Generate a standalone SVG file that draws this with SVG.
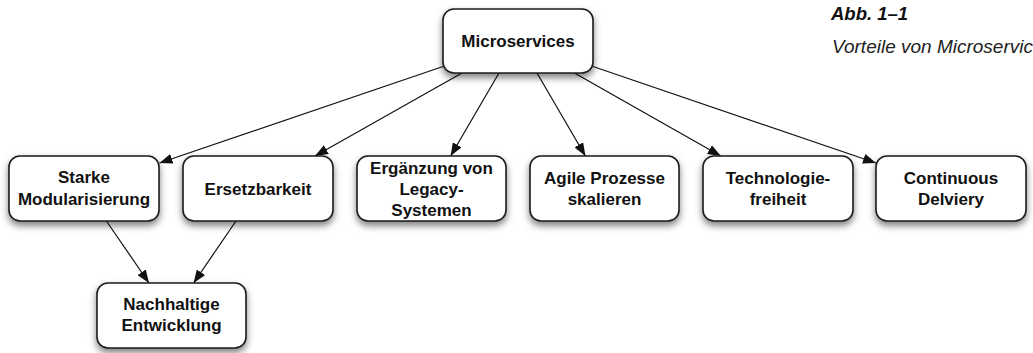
<svg xmlns="http://www.w3.org/2000/svg" width="1033" height="353" viewBox="0 0 1033 353">
  <style>
    .box { fill: #ffffff; stroke: #1a1a1a; stroke-width: 1.6; filter: url(#shadow); }
    .label { font-family: "Liberation Sans", Arial, sans-serif; font-weight: bold; font-size: 17px; fill: #111111; text-anchor: middle; }
    .edge { stroke: #111111; stroke-width: 1.2; fill: none; marker-end: url(#arrow); }
    .cap-title { font-family: "Liberation Sans", Arial, sans-serif; font-weight: bold; font-style: italic; font-size: 18.5px; fill: #111111; }
    .cap-text { font-family: "Liberation Sans", Arial, sans-serif; font-style: italic; font-size: 19px; fill: #222222; }
  </style>
  <defs>
    <filter id="shadow" x="-20%" y="-30%" width="140%" height="170%">
      <feDropShadow dx="0" dy="4" stdDeviation="3.5" flood-color="#000000" flood-opacity="0.5"/>
    </filter>
    <marker id="arrow" markerUnits="userSpaceOnUse" markerWidth="13" markerHeight="10" refX="13" refY="5" orient="auto">
      <path d="M0,0 L13,5 L0,10 z" fill="#111111"/>
    </marker>
  </defs>

  <rect width="1033" height="353" fill="#ffffff"/>

  <!-- caption (runs off the right edge) -->
  <text class="cap-title" x="831" y="20">Abb. 1–1</text>
  <text class="cap-text" x="832" y="53">Vorteile von Microservices</text>

  <!-- connectors -->
  <g id="connectors">
    <line class="edge" x1="443" y1="66.5" x2="159.5" y2="163"/>
    <line class="edge" x1="462" y1="73" x2="315" y2="156"/>
    <line class="edge" x1="499" y1="73" x2="450.6" y2="156"/>
    <line class="edge" x1="537" y1="73" x2="585.4" y2="156"/>
    <line class="edge" x1="574.4" y1="73" x2="720.8" y2="156"/>
    <line class="edge" x1="593" y1="66.5" x2="876" y2="163"/>
    <line class="edge" x1="106.4" y1="221" x2="149" y2="283"/>
    <line class="edge" x1="236" y1="221" x2="193.6" y2="283"/>
  </g>

  <!-- nodes -->
  <g id="microservices">
    <rect class="box" x="443" y="9" width="150" height="64" rx="11"/>
    <text class="label" x="518" y="47">Microservices</text>
  </g>
  <g id="starke-modularisierung">
    <rect class="box" x="9" y="156" width="150" height="65" rx="11"/>
    <text class="label" x="84" y="183">Starke</text>
    <text class="label" x="84" y="205">Modularisierung</text>
  </g>
  <g id="ersetzbarkeit">
    <rect class="box" x="183" y="156" width="150" height="65" rx="11"/>
    <text class="label" x="258" y="195">Ersetzbarkeit</text>
  </g>
  <g id="ergaenzung-legacy">
    <rect class="box" x="357" y="156" width="149" height="65" rx="11"/>
    <text class="label" x="431.5" y="174">Ergänzung von</text>
    <text class="label" x="431.5" y="195">Legacy-</text>
    <text class="label" x="431.5" y="216">Systemen</text>
  </g>
  <g id="agile-prozesse">
    <rect class="box" x="530" y="156" width="149" height="65" rx="11"/>
    <text class="label" x="604.5" y="184">Agile Prozesse</text>
    <text class="label" x="604.5" y="205">skalieren</text>
  </g>
  <g id="technologiefreiheit">
    <rect class="box" x="703" y="156" width="150" height="65" rx="11"/>
    <text class="label" x="778" y="184">Technologie-</text>
    <text class="label" x="778" y="205">freiheit</text>
  </g>
  <g id="continuous-delivery">
    <rect class="box" x="876" y="156" width="150" height="65" rx="11"/>
    <text class="label" x="951" y="184">Continuous</text>
    <text class="label" x="951" y="205">Delviery</text>
  </g>
  <g id="nachhaltige-entwicklung">
    <rect class="box" x="97" y="283" width="149" height="65" rx="11"/>
    <text class="label" x="171.5" y="310">Nachhaltige</text>
    <text class="label" x="171.5" y="331">Entwicklung</text>
  </g>
</svg>
